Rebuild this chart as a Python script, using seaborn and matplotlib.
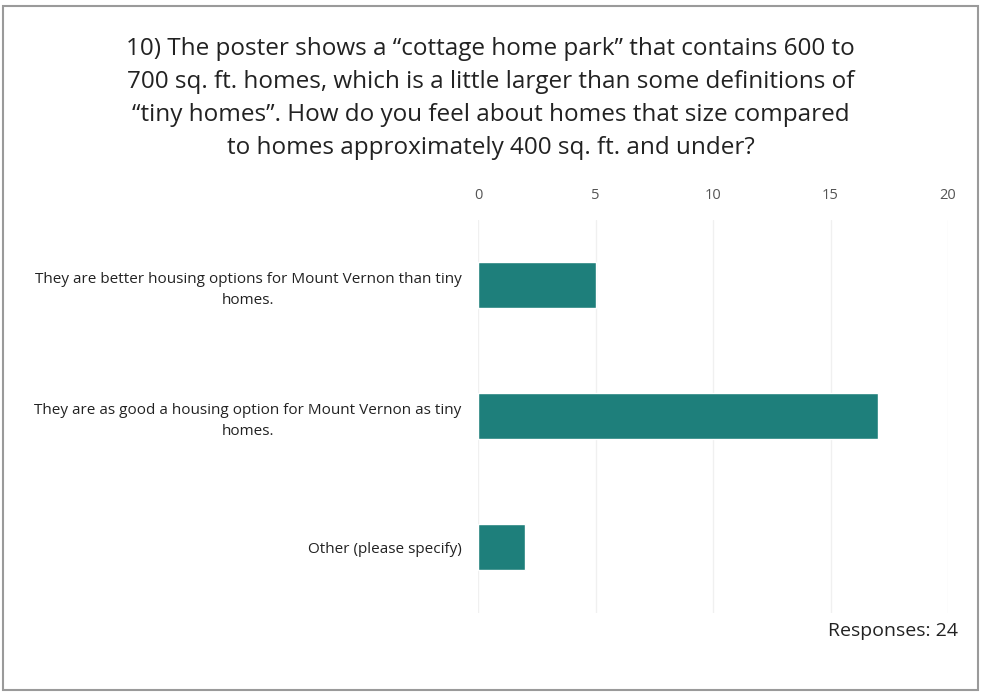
import matplotlib
matplotlib.use("Agg")
import matplotlib.pyplot as plt
import seaborn as sns
import pandas as pd
from matplotlib.patches import Rectangle

categories = [
    "They are better housing options for Mount Vernon than tiny\nhomes.",
    "They are as good a housing option for Mount Vernon as tiny\nhomes.",
    "Other (please specify)",
]
counts = [5, 17, 2]
x_ticks = [0, 5, 10, 15, 20]
title = ("10) The poster shows a \u201ccottage home park\u201d that contains 600 to\n"
         "700 sq. ft. homes, which is a little larger than some definitions of\n"
         "\u201ctiny homes\u201d. How do you feel about homes that size compared\n"
         "to homes approximately 400 sq. ft. and under?")
responses = f"Responses: {sum(counts)}"

df = pd.DataFrame({"category": categories, "count": counts})

sns.set_style("white")
plt.rcParams["font.family"] = ["Open Sans", "DejaVu Sans"]

fig = plt.figure(figsize=(9.81, 6.97), dpi=100)
fig.patch.set_facecolor("white")
fig.patches.append(Rectangle((0.003, 0.01), 0.994, 0.982, transform=fig.transFigure,
                             fill=False, edgecolor="#9a9a9a", linewidth=1.5))

ax = fig.add_axes([0.4873, 0.1212, 0.4791, 0.5638])
sns.barplot(data=df, x="count", y="category", color="#1e7f7b", width=0.35,
            saturation=1, ax=ax)

ax.set_xlim(0, 20)
ax.set_xticks(x_ticks)
ax.xaxis.tick_top()
ax.tick_params(axis="x", length=0, labelsize=10.5, labelcolor="#555555", pad=12)
ax.tick_params(axis="y", length=0, labelsize=11, labelcolor="#222222", pad=12)
for lab in ax.get_yticklabels():
    lab.set_multialignment("center")
    lab.set_linespacing(1.5)
ax.grid(axis="x", color="#f0f0f0", linewidth=1)
ax.set_axisbelow(True)
for s in ax.spines.values():
    s.set_visible(False)
ax.set_xlabel("")
ax.set_ylabel("")

fig.text(0.5, 0.947, title, ha="center", va="top", fontsize=17.5, color="#222222",
         linespacing=1.5)
fig.text(0.977, 0.095, responses, ha="right", va="center", fontsize=14, color="#222222")

fig.savefig("out.png", dpi=100, facecolor="white")
